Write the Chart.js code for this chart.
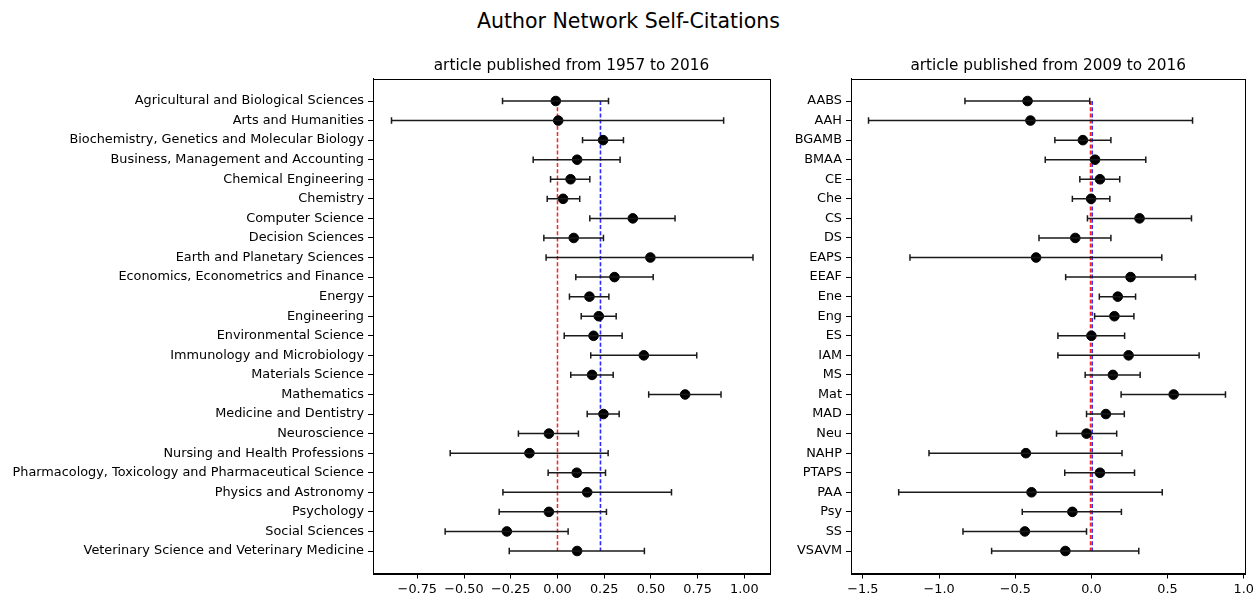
<!DOCTYPE html>
<html>
<head>
<meta charset="utf-8">
<script src="https://cdn.jsdelivr.net/npm/chart.js@4/dist/chart.umd.min.js"></script>
<style>
  html, body { margin: 0; padding: 0; background: #fff; }
  body { width: 1257px; height: 594px; position: relative; overflow: hidden; font-family: 'DejaVu Sans', sans-serif; }
  #mainTitle { position: absolute; left: 0; width: 1257px; top: 9px; text-align: center; font-size: 20.5px; color: #000; }
  #leftWrap { position: absolute; left: 0; top: 0; width: 780px; height: 594px; }
  #rightWrap { position: absolute; left: 790px; top: 0; width: 467px; height: 594px; }
</style>
</head>
<body>
<div id="mainTitle">Author Network Self-Citations</div>
<div id="leftWrap"><canvas id="left" width="780" height="594"></canvas></div>
<div id="rightWrap"><canvas id="right" width="467" height="594"></canvas></div>
<script>
// ---- Data ----
const leftCategories = [
  "Agricultural and Biological Sciences", "Arts and Humanities",
  "Biochemistry, Genetics and Molecular Biology", "Business, Management and Accounting",
  "Chemical Engineering", "Chemistry", "Computer Science", "Decision Sciences",
  "Earth and Planetary Sciences", "Economics, Econometrics and Finance", "Energy",
  "Engineering", "Environmental Science", "Immunology and Microbiology",
  "Materials Science", "Mathematics", "Medicine and Dentistry", "Neuroscience",
  "Nursing and Health Professions", "Pharmacology, Toxicology and Pharmaceutical Science",
  "Physics and Astronomy", "Psychology", "Social Sciences",
  "Veterinary Science and Veterinary Medicine"
];
const rightCategories = [
  "AABS", "AAH", "BGAMB", "BMAA", "CE", "Che", "CS", "DS", "EAPS", "EEAF", "Ene", "Eng",
  "ES", "IAM", "MS", "Mat", "MAD", "Neu", "NAHP", "PTAPS", "PAA", "Psy", "SS", "VSAVM"
];

const leftMean = [-0.009, 0.004, 0.244, 0.105, 0.070, 0.030, 0.403, 0.087, 0.497, 0.305, 0.171, 0.221,
                  0.193, 0.462, 0.185, 0.683, 0.246, -0.046, -0.150, 0.103, 0.159, -0.046, -0.271, 0.105];
const leftLow  = [-0.294, -0.888, 0.134, -0.130, -0.037, -0.055, 0.173, -0.073, -0.061, 0.098, 0.064, 0.127,
                  0.036, 0.178, 0.071, 0.488, 0.159, -0.209, -0.574, -0.050, -0.292, -0.312, -0.601, -0.258];
const leftHigh = [0.273, 0.889, 0.353, 0.335, 0.173, 0.119, 0.629, 0.246, 1.046, 0.512, 0.275, 0.314,
                  0.346, 0.745, 0.298, 0.875, 0.330, 0.112, 0.271, 0.257, 0.610, 0.262, 0.057, 0.465];

const rightMean = [-0.419, -0.400, -0.056, 0.024, 0.056, -0.002, 0.316, -0.106, -0.363, 0.257, 0.173, 0.151,
                   0.000, 0.244, 0.141, 0.540, 0.095, -0.032, -0.430, 0.056, -0.393, -0.125, -0.437, -0.171];
const rightLow  = [-0.830, -1.463, -0.240, -0.303, -0.076, -0.125, -0.026, -0.344, -1.191, -0.169, 0.052, 0.021,
                   -0.220, -0.220, -0.041, 0.195, -0.032, -0.229, -1.066, -0.175, -1.265, -0.454, -0.843, -0.655];
const rightHigh = [-0.011, 0.664, 0.128, 0.357, 0.186, 0.121, 0.657, 0.128, 0.462, 0.683, 0.290, 0.279,
                   0.218, 0.707, 0.320, 0.880, 0.216, 0.166, 0.201, 0.283, 0.465, 0.197, -0.032, 0.311];

const leftRefRed = 0.0, leftRefBlue = 0.23;
const rightRefRed = -0.006, rightRefBlue = 0.005;

const leftXTicks = [-0.75, -0.50, -0.25, 0.00, 0.25, 0.50, 0.75, 1.00];
const rightXTicks = [-1.5, -1.0, -0.5, 0.0, 0.5, 1.0];

const leftTitle = "article published from 1957 to 2016";
const rightTitle = "article published from 2009 to 2016";

// ---- Plugins ----
const errorBarPlugin = {
  id: 'errorBars',
  afterDatasetsDraw(chart) {
    const ctx = chart.ctx;
    const xs = chart.scales.x, ys = chart.scales.y;
    chart.data.datasets.forEach(ds => {
      if (!ds.errLow) return;
      ctx.save();
      ctx.strokeStyle = '#1a1a1a';
      ctx.lineWidth = 1.5;
      ds.data.forEach((p, i) => {
        const y = ys.getPixelForValue(p.y);
        const x1 = xs.getPixelForValue(ds.errLow[i]);
        const x2 = xs.getPixelForValue(ds.errHigh[i]);
        ctx.beginPath();
        ctx.moveTo(x1, y); ctx.lineTo(x2, y);
        ctx.moveTo(x1, y - 3.2); ctx.lineTo(x1, y + 3.2);
        ctx.moveTo(x2, y - 3.2); ctx.lineTo(x2, y + 3.2);
        ctx.stroke();
      });
      ctx.restore();
    });
  }
};
const framePlugin = {
  id: 'frame',
  afterDraw(chart) {
    const a = chart.chartArea, ctx = chart.ctx;
    ctx.save();
    ctx.strokeStyle = '#000';
    ctx.lineWidth = 1;
    ctx.strokeRect(Math.round(a.left) + 0.5, Math.round(a.top) + 0.5,
                   Math.round(a.right - a.left), Math.round(a.bottom - a.top));
    // subtitle centred over the plot area
    const t = chart.options.plugins.panelTitle;
    ctx.fillStyle = '#000';
    ctx.font = t.size + 'px "DejaVu Sans"';
    ctx.textAlign = 'center';
    ctx.textBaseline = 'middle';
    ctx.fillText(t.text, (a.left + a.right) / 2, t.y);
    ctx.restore();
  }
};

function fmt(v, d) {
  return v.toFixed(d).replace('-', '\u2212');
}

function makeChart(id, cats, mean, low, high, red, blue, xTicks, decimals, xmin, xmax, yWidth, padRight, title) {
  const points = mean.map((m, i) => ({ x: m, y: i }));
  const last = cats.length - 1;
  return new Chart(document.getElementById(id), {
    type: 'scatter',
    data: {
      datasets: [
        {
          type: 'line', data: [{ x: red, y: 0 }, { x: red, y: last }],
          borderColor: '#ff2020', borderWidth: 1.5, borderDash: [4, 2.2], pointRadius: 0, showLine: true, order: 3
        },
        {
          type: 'line', data: [{ x: blue, y: 0 }, { x: blue, y: last }],
          borderColor: '#2a2aff', borderWidth: 1.6, borderDash: [4, 2.2],
          pointRadius: 0, showLine: true, order: 2
        },
        {
          data: points, errLow: low, errHigh: high,
          backgroundColor: '#000', borderColor: '#000', pointRadius: 4.8, pointHoverRadius: 4.8, order: 1
        }
      ]
    },
    options: {
      responsive: false, animation: false, devicePixelRatio: 1,
      layout: { padding: { left: 0, right: padRight, top: 78.5, bottom: 0 } },
      plugins: {
        legend: { display: false }, tooltip: { enabled: false }, title: { display: false },
        panelTitle: { text: title, size: 15.3, y: 66 }
      },
      scales: {
        x: {
          type: 'linear', min: xmin, max: xmax,
          afterBuildTicks: s => { s.ticks = xTicks.map(v => ({ value: v })); },
          afterFit: s => { s.height = 20.5; },
          grid: { drawOnChartArea: false, drawTicks: true, tickLength: 5, color: '#000' },
          border: { color: '#000' },
          ticks: { color: '#000', padding: 3, maxRotation: 0, autoSkip: false,
                   font: { family: 'DejaVu Sans', size: 12.85 },
                   callback: v => fmt(v, decimals) }
        },
        y: {
          type: 'linear', reverse: true, min: -1.15, max: last + 1.15,
          afterBuildTicks: s => { s.ticks = cats.map((_, i) => ({ value: i })); },
          afterFit: s => { s.width = yWidth; },
          grid: { drawOnChartArea: false, drawTicks: true, tickLength: 5, color: '#000' },
          border: { color: '#000' },
          ticks: { color: '#000', padding: 4, autoSkip: false,
                   font: { family: 'DejaVu Sans', size: 12.85 },
                   callback: v => cats[v] }
        }
      }
    },
    plugins: [errorBarPlugin, framePlugin]
  });
}

makeChart('left', leftCategories, leftMean, leftLow, leftHigh, leftRefRed, leftRefBlue,
          leftXTicks, 2, -0.987, 1.137, 373, 10, leftTitle);
makeChart('right', rightCategories, rightMean, rightLow, rightHigh, rightRefRed, rightRefBlue,
          rightXTicks, 1, -1.578, 1.01, 61, 9, rightTitle);
</script>
</body>
</html>
